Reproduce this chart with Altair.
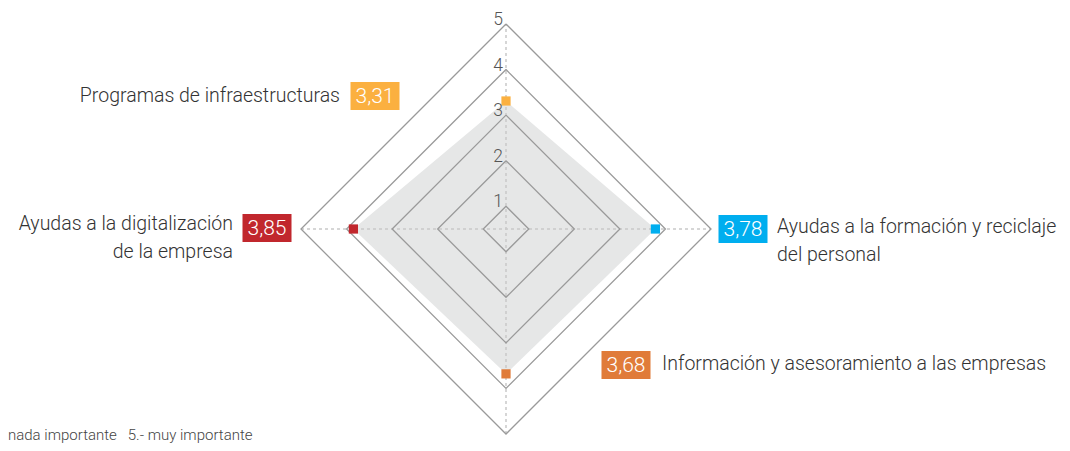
import altair as alt
import pandas as pd

# ---------------- data ----------------
categories = [
    "Programas de infraestructuras",
    "Ayudas a la formación y reciclaje\ndel personal",
    "Información y asesoramiento a las empresas",
    "Ayudas a la digitalización\nde la empresa",
]
values = [3.31, 3.78, 3.68, 3.85]
value_labels = ["3,31", "3,78", "3,68", "3,85"]
colors = ["#fbb040", "#00aeef", "#e07b39", "#c1272d"]
levels = [1, 2, 3, 4, 5]
footnote = "nada importante\u00a0\u00a0\u00a05.- muy importante"

# ---------------- layout / style ----------------
PAD_TOP = 8
W, H = 1054, 427
CX, CY = 498, 213          # centre of the radar in plot pixels
R5 = 205                   # pixel radius of level 5
VMIN, VMAX = 0.5, 5.0
RMAX = VMAX - VMIN
dirs = [(0, 1), (1, 0), (0, -1), (-1, 0)]   # top, right, bottom, left
FONT = "Roboto"
WEIGHT = 300
TEXT_COLOR = "#333333"

# offsets (pixels) of badge centre and label anchor from the axis tip
badge_off = [(-131, 72), (32, 0), (120, -69), (-34, -1)]
label_off = [(-166, 78), (66, 4), (156, -64), (-68, 1)]
label_align = ["right", "left", "left", "right"]

xs = alt.Scale(domain=[-RMAX, RMAX], range=[CX - R5, CX + R5], nice=False, zero=False)
ys = alt.Scale(domain=[-RMAX, RMAX], range=[CY + R5, CY - R5], nice=False, zero=False)
X = alt.X("x:Q", scale=xs, axis=None)
Y = alt.Y("y:Q", scale=ys, axis=None)

# ---------------- tables ----------------
grid_rows = []
for L in levels:
    r = L - VMIN
    pts = [(0, r), (r, 0), (0, -r), (-r, 0), (0, r)]
    for j, (px, py) in enumerate(pts):
        grid_rows.append({"level": L, "ord": j, "x": px, "y": py})
grid_df = pd.DataFrame(grid_rows)

rad = [v - VMIN for v in values]
area_df = pd.DataFrame({
    "x": [-rad[3], 0, rad[1]],
    "y": [0, rad[0], 0],
    "y2": [0, -rad[2], 0],
})

pts_df = pd.DataFrame({
    "cat": categories,
    "x": [d[0] * r for d, r in zip(dirs, rad)],
    "y": [d[1] * r for d, r in zip(dirs, rad)],
    "color": colors,
})

axes_df = pd.DataFrame({
    "x": [-RMAX, 0], "x2": [RMAX, 0],
    "y": [0, -RMAX], "y2": [0, RMAX],
})

ticks_df = pd.DataFrame({
    "x": [0] * len(levels),
    "y": [L - VMIN for L in levels],
    "t": [str(L) for L in levels],
})

# ---------------- layers ----------------
area = alt.Chart(area_df).mark_area(color="#e6e7e7", opacity=1).encode(
    x=X, y=Y, y2="y2:Q"
)

axes = alt.Chart(axes_df).mark_rule(
    color="#c9c9c9", strokeDash=[3, 3], strokeWidth=1.5
).encode(x=X, x2="x2:Q", y=Y, y2="y2:Q")

grid = alt.Chart(grid_df).mark_line(color="#9a9a9a", strokeWidth=1.3).encode(
    x=X, y=Y, detail="level:N", order="ord:Q"
)

markers = alt.Chart(pts_df).mark_square(size=85, opacity=1).encode(
    x=X, y=Y, color=alt.Color("color:N", scale=None)
)

ticks = alt.Chart(ticks_df).mark_text(
    align="right", baseline="alphabetic", dx=-3, dy=1, fontSize=17.5,
    color="#555555", font=FONT, fontWeight=WEIGHT
).encode(x=X, y=Y, text="t:N")

layers = [area, axes, grid, markers, ticks]

for i in range(4):
    tip = pd.DataFrame({
        "x": [dirs[i][0] * RMAX], "y": [dirs[i][1] * RMAX],
        "v": [value_labels[i]], "lab": [categories[i]],
    })
    bx, by = badge_off[i]
    lx, ly = label_off[i]
    badge = alt.Chart(tip).mark_point(
        shape="M-1,-0.571H1V0.571H-1Z", size=49 ** 2, filled=True,
        opacity=1, color=colors[i], strokeWidth=0, xOffset=bx, yOffset=by
    ).encode(x=X, y=Y)
    vtxt = alt.Chart(tip).mark_text(
        align="center", baseline="middle", fontSize=21, color="white",
        font=FONT, fontWeight=WEIGHT, xOffset=bx, yOffset=by + 1
    ).encode(x=X, y=Y, text="v:N")
    ltxt = alt.Chart(tip).mark_text(
        align=label_align[i], baseline="alphabetic", fontSize=19.5,
        color=TEXT_COLOR, font=FONT, fontWeight=WEIGHT, lineBreak="\n",
        lineHeight=28, xOffset=lx, yOffset=ly
    ).encode(x=X, y=Y, text="lab:N")
    layers += [badge, vtxt, ltxt]

foot = alt.Chart(pd.DataFrame({"t": [footnote]})).mark_text(
    align="left", baseline="alphabetic", fontSize=15, color="#444444",
    font=FONT, fontWeight=WEIGHT
).encode(x=alt.value(0), y=alt.value(424), text="t:N")
layers.append(foot)

chart = alt.layer(*layers).properties(
    width=W, height=H,
    padding={"top": PAD_TOP, "left": 0, "right": 0, "bottom": 0},
    autosize=alt.AutoSizeParams(type="none"),
).configure_view(stroke=None)

chart.save("out.html", embed_options={"renderer": "svg", "actions": False})
